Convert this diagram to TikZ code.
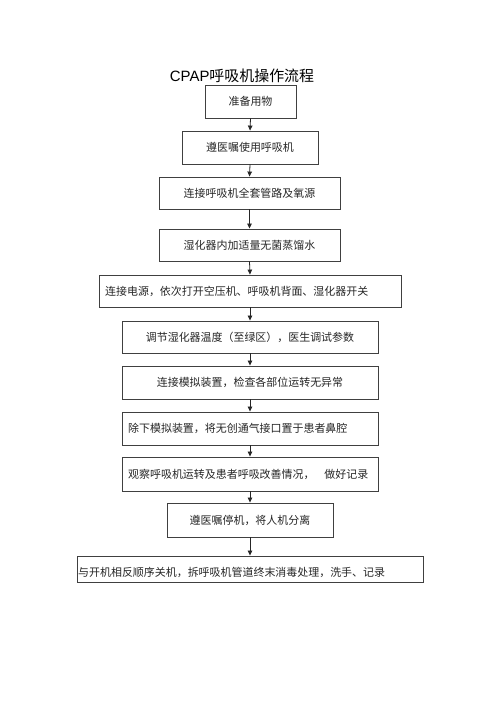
\documentclass[tikz,border=0pt]{standalone}
\usepackage{fontspec}
\setmainfont{Noto Sans CJK SC}
\newfontfamily\cjk{Noto Sans CJK SC}
\newfontfamily\lat{Liberation Sans}
\usetikzlibrary{arrows.meta}
\tikzset{
  stepbox/.style={draw=black!75, line width=0.9pt, rectangle, inner sep=0pt,
    font=\cjk\fontsize{11}{13}\selectfont, text=black!85},
  flowarrow/.style={draw=black!85, line width=0.8pt, -{Triangle[length=5pt,width=4.5pt]}},
  lefttext/.style={anchor=west, inner sep=0pt, font=\cjk\fontsize{11}{13}\selectfont, text=black!85}
}
\begin{document}
\begin{tikzpicture}[x=1bp,y={(0,-1bp)}]
\useasboundingbox[fill=white] (0,0) rectangle (500,708);
\node[inner sep=0pt, font=\fontsize{15}{17}\selectfont] (title) at (242,76) {{\lat CPAP}{\cjk 呼吸机操作流程}};
\node[stepbox, minimum width=91bp, minimum height=33bp] (b1) at (250.5,101.5) {准备用物};
\node[stepbox, minimum width=136bp, minimum height=33bp] (b2) at (250,147.5) {遵医嘱使用呼吸机};
\node[stepbox, minimum width=181bp, minimum height=32bp] (b3) at (249.5,193) {连接呼吸机全套管路及氧源};
\node[stepbox, minimum width=181bp, minimum height=32bp] (b4) at (249.5,245) {湿化器内加适量无菌蒸馏水};
\node[stepbox, minimum width=302bp, minimum height=32bp] (b5) at (250,291) {};
\node[lefttext] (t5) at (105,291) {连接电源，依次打开空压机、呼吸机背面、湿化器开关};
\node[stepbox, minimum width=256bp, minimum height=32bp] (b6) at (250,337) {调节湿化器温度（至绿区），医生调试参数};
\node[stepbox, minimum width=256bp, minimum height=33bp] (b7) at (250,382.5) {连接模拟装置，检查各部位运转无异常};
\node[stepbox, minimum width=256bp, minimum height=33bp] (b8) at (250,428.5) {};
\node[lefttext] (t8) at (128,428.5) {除下模拟装置，将无创通气接口置于患者鼻腔};
\node[stepbox, minimum width=256bp, minimum height=34bp] (b9) at (250,474) {};
\node[lefttext] (t9) at (128,474) {观察呼吸机运转及患者呼吸改善情况，\hspace{10pt}做好记录};
\node[stepbox, minimum width=166bp, minimum height=34bp] (b10) at (250,520) {遵医嘱停机，将人机分离};
\node[stepbox, minimum width=346bp, minimum height=26bp] (b11) at (250,569) {};
\node[lefttext] (t11) at (78,572) {与开机相反顺序关机，拆呼吸机管道终末消毒处理，洗手、记录};
\draw[flowarrow] (b1.south) -- (b2.north);
\draw[flowarrow] (b2.south) -- (b3.north);
\draw[flowarrow] (b3.south) -- (b4.north);
\draw[flowarrow] (b4.south) -- (b5.north);
\draw[flowarrow] (b5.south) -- (b6.north);
\draw[flowarrow] (b6.south) -- (b7.north);
\draw[flowarrow] (b7.south) -- (b8.north);
\draw[flowarrow] (b8.south) -- (b9.north);
\draw[flowarrow] (b9.south) -- (b10.north);
\draw[flowarrow] (b10.south) -- (b11.north);
\end{tikzpicture}
\end{document}
